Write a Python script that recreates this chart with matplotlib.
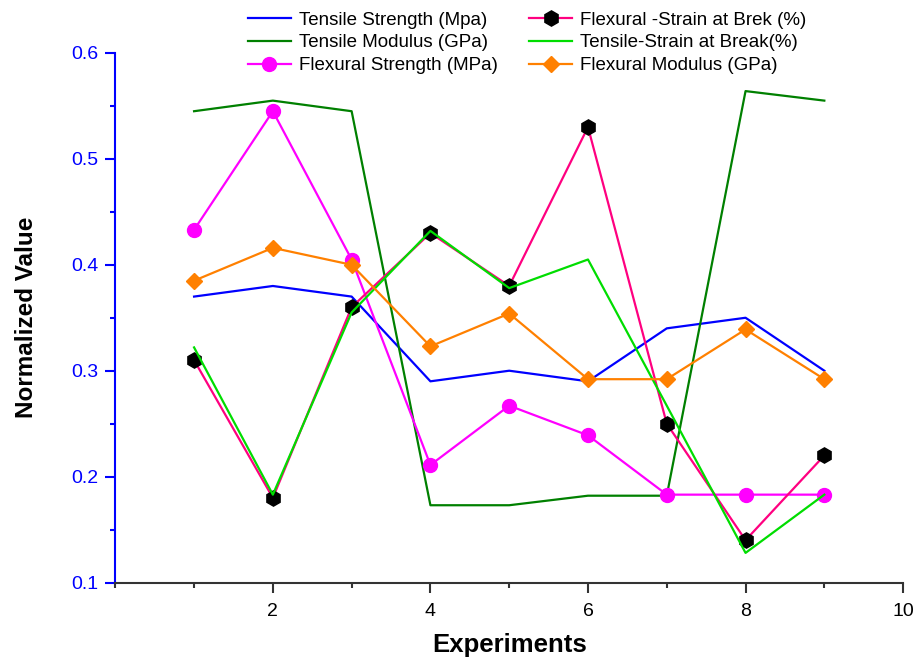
import matplotlib
matplotlib.use("Agg")
from matplotlib import pyplot as plt
from matplotlib.ticker import MultipleLocator

experiments = [1, 2, 3, 4, 5, 6, 7, 8, 9]

tensile_strength = [0.37, 0.38, 0.37, 0.29, 0.30, 0.29, 0.34, 0.35, 0.30]
tensile_modulus = [0.545, 0.555, 0.545, 0.173, 0.173, 0.182, 0.182, 0.564, 0.555]
flexural_strength = [0.433, 0.545, 0.405, 0.211, 0.267, 0.239, 0.183, 0.183, 0.183]
flexural_strain = [0.31, 0.18, 0.36, 0.43, 0.38, 0.53, 0.25, 0.14, 0.22]
tensile_strain = [0.322, 0.183, 0.355, 0.432, 0.378, 0.405, 0.267, 0.128, 0.183]
flexural_modulus = [0.385, 0.416, 0.40, 0.323, 0.354, 0.292, 0.292, 0.339, 0.292]

plt.rcParams["font.family"] = ["Liberation Sans", "DejaVu Sans"]

fig = plt.figure(figsize=(9.15, 6.62), dpi=100)
ax = fig.add_axes([0.126, 0.12, 0.861, 0.80])

ax.plot(experiments, tensile_strength, color="#0000FF", lw=1.6,
        label="Tensile Strength (Mpa)")
ax.plot(experiments, tensile_modulus, color="#008000", lw=1.6,
        label="Tensile Modulus (GPa)")
ax.plot(experiments, flexural_strength, color="#FF00FF", lw=1.6,
        marker="o", ms=10, mec="#FF00FF", mfc="#FF00FF",
        label="Flexural Strength (MPa)")
ax.plot(experiments, flexural_strain, color="#FF0080", lw=1.6,
        marker="h", ms=11, mec="black", mfc="black",
        label="Flexural -Strain at Brek (%)")
ax.plot(experiments, tensile_strain, color="#00DD00", lw=1.6,
        label="Tensile-Strain at Break(%)")
ax.plot(experiments, flexural_modulus, color="#FF8000", lw=1.6,
        marker="D", ms=8.5, mec="#FF8000", mfc="#FF8000",
        label="Flexural Modulus (GPa)")

ax.set_xlim(0, 10)
ax.set_ylim(0.1, 0.6)
ax.xaxis.set_major_locator(MultipleLocator(2))
ax.xaxis.set_minor_locator(MultipleLocator(1))
ax.yaxis.set_major_locator(MultipleLocator(0.1))
ax.yaxis.set_minor_locator(MultipleLocator(0.05))
ax.set_xticks([2, 4, 6, 8, 10])

ax.spines["top"].set_visible(False)
ax.spines["right"].set_visible(False)
ax.spines["left"].set_color("#0000FF")
ax.spines["left"].set_linewidth(1.5)
ax.spines["bottom"].set_color("#333333")
ax.spines["bottom"].set_linewidth(1.5)

ax.tick_params(axis="y", which="major", direction="out", length=7, width=1.5,
               colors="#0000FF", labelsize=14, pad=5)
ax.tick_params(axis="y", which="minor", direction="out", length=3.5, width=1.5,
               colors="#0000FF")
ax.tick_params(axis="x", which="major", direction="out", length=7, width=1.5,
               color="#333333", labelcolor="black", labelsize=14, pad=8)
ax.tick_params(axis="x", which="minor", direction="out", length=3.5, width=1.5,
               color="#333333")

ax.set_xlabel("Experiments", fontsize=18.5, fontweight="bold", labelpad=9)
ax.set_ylabel("Normalized Value", fontsize=17.5, fontweight="bold", labelpad=24)

fig.legend(loc="upper left", bbox_to_anchor=(0.2525, 1.008), ncol=2,
           frameon=False, fontsize=13.5, handlelength=2.3, handletextpad=0.4,
           columnspacing=1.7, labelspacing=0.3)

fig.savefig("out.png", dpi=100)
